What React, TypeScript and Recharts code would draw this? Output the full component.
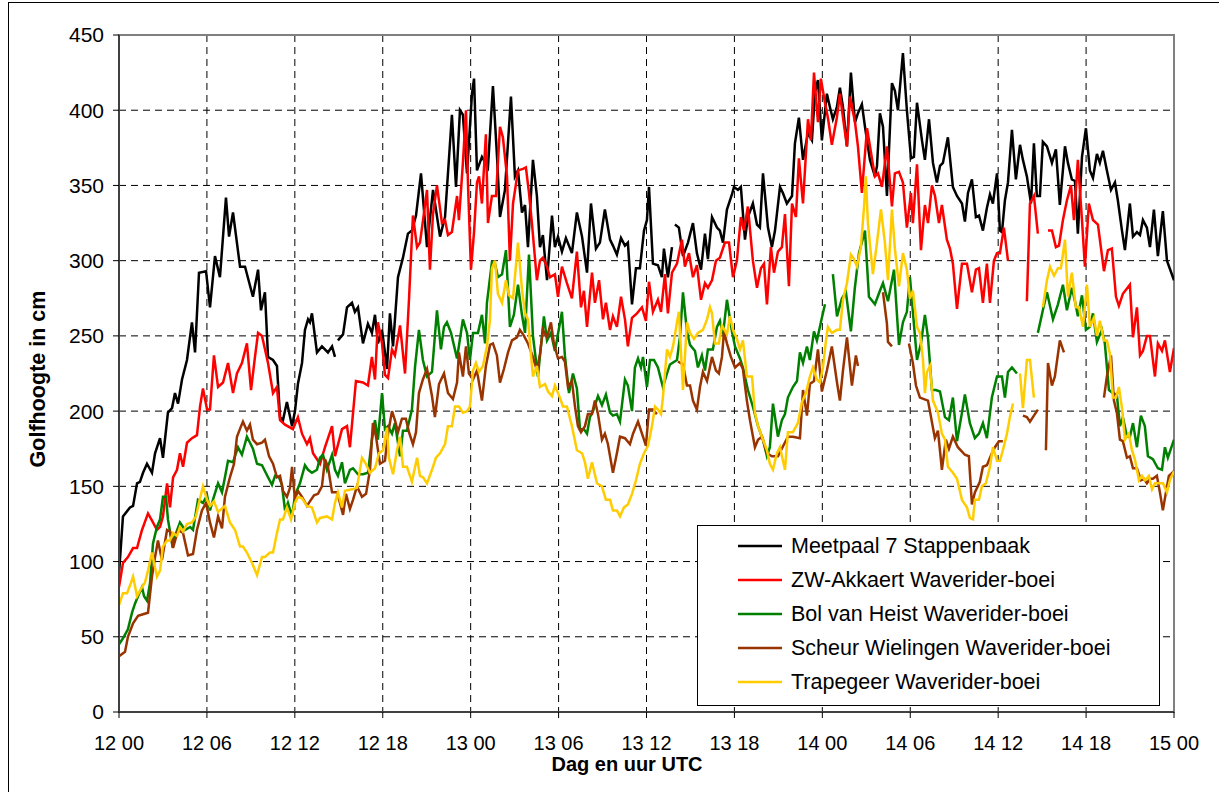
import React from 'react';
import { LineChart, Line, XAxis, YAxis, CartesianGrid, ReferenceArea, Legend, Label } from 'recharts';

// time in hours after "12 00", wave height in cm (null = gap in the record)
const meetpaal: [number, number | null][] = [
[0,92],[0.27,130],[0.75,136],[0.96,137],[1.23,152],[1.43,153],[1.64,159],[1.91,165],[2.25,159],[2.46,172],[2.80,182],[3.00,169],[3.34,199],[3.62,202],[3.82,212],[4.03,205],[4.30,221],[4.64,234],[4.91,254],[4.98,259],[5.19,239],[5.46,292],[5.94,293],[6.21,269],[6.55,303],[6.89,289],[7.30,342],[7.51,316],[7.78,332],[8.26,296],[8.60,296],[9.14,276],[9.49,294],[9.69,267],[9.96,279],[10.17,236],[10.51,234],[10.78,230],[10.99,196],[11.19,194],[11.46,206],[11.81,190],[12.01,200],[12.21,218],[12.49,232],[12.69,254],[12.90,261],[13.03,259],[13.17,265],[13.51,239],[13.85,243],[14.26,239],[14.54,243],[14.74,236],[14.85,null],[14.94,247],[15.29,251],[15.56,269],[15.90,272],[16.10,266],[16.31,269],[16.65,245],[16.99,258],[17.26,252],[17.47,264],[17.67,245],[17.95,254],[18.15,239],[18.29,228],[18.49,265],[18.70,243],[19.04,289],[19.38,302],[19.72,318],[19.99,320],[20.27,330],[20.61,358],[21.02,309],[21.43,347],[21.91,316],[22.25,329],[22.72,397],[23.00,349],[23.27,400],[23.47,397],[23.75,358],[24.09,411],[24.23,421],[24.43,360],[24.77,369],[25.18,362],[25.52,416],[25.80,369],[26.00,329],[26.34,347],[26.75,409],[27.02,356],[27.23,360],[27.50,332],[27.71,337],[27.91,309],[28.25,367],[28.52,343],[28.73,309],[28.93,317],[29.21,287],[29.55,330],[29.75,309],[29.96,316],[30.23,306],[30.50,315],[30.91,305],[31.25,332],[31.60,316],[31.94,292],[32.21,338],[32.55,308],[32.82,312],[33.16,334],[33.51,314],[33.71,310],[33.98,304],[34.26,315],[34.53,310],[34.73,312],[35.01,271],[35.28,295],[35.55,295],[35.83,320],[36.03,327],[36.17,349],[36.44,298],[36.78,297],[37.05,289],[37.19,308],[37.46,289],[37.74,309],[37.85,null],[37.94,324],[38.21,322],[38.49,303],[38.83,312],[39.17,325],[39.44,305],[39.72,294],[39.99,318],[40.19,301],[40.47,329],[40.81,322],[41.01,320],[41.22,312],[41.49,334],[41.83,344],[41.97,349],[42.24,347],[42.44,349],[42.72,314],[42.92,329],[43.26,338],[43.54,324],[43.74,322],[43.95,358],[44.29,322],[44.56,309],[44.77,320],[45.11,349],[45.31,345],[45.58,338],[45.93,343],[46.13,378],[46.40,395],[46.68,367],[47.02,385],[47.29,380],[47.50,412],[47.70,420],[47.97,380],[48.31,411],[48.52,402],[48.72,394],[48.99,402],[49.20,415],[49.41,402],[49.68,376],[49.95,425],[50.23,392],[50.43,398],[50.70,404],[50.91,389],[51.25,367],[51.59,356],[51.73,363],[51.93,398],[52.14,389],[52.41,343],[52.75,418],[52.95,413],[53.16,400],[53.50,438],[53.77,400],[54.05,368],[54.25,369],[54.46,405],[54.80,380],[55.00,367],[55.28,394],[55.55,365],[55.82,352],[56.03,363],[56.23,365],[56.57,382],[56.91,349],[57.19,343],[57.53,338],[57.73,326],[57.94,345],[58.21,354],[58.48,329],[58.69,330],[58.96,320],[59.23,335],[59.44,344],[59.64,338],[59.92,358],[60.12,320],[60.26,319],[60.46,340],[60.67,352],[60.94,387],[61.21,354],[61.49,377],[61.69,367],[61.96,356],[62.24,338],[62.44,378],[62.64,343],[62.85,343],[63.05,379],[63.33,376],[63.67,365],[63.94,374],[64.21,337],[64.56,376],[64.76,365],[65.03,354],[65.24,353],[65.44,318],[65.72,369],[65.99,388],[66.26,360],[66.47,355],[66.74,371],[66.94,365],[67.15,373],[67.42,360],[67.70,347],[67.97,352],[68.17,340],[68.45,320],[68.65,307],[68.99,338],[69.20,316],[69.47,319],[69.68,317],[69.88,327],[70.15,322],[70.36,309],[70.63,334],[70.90,303],[71.24,333],[71.52,300],[72,287]
];

const akkaert: [number, number | null][] = [
[0,83],[0.27,99],[0.61,103],[0.96,109],[1.23,109],[1.57,121],[1.98,132],[2.32,126],[2.59,121],[2.80,123],[3.00,130],[3.28,152],[3.48,136],[3.69,156],[3.96,161],[4.16,172],[4.37,163],[4.64,179],[4.98,182],[5.32,184],[5.53,203],[5.73,215],[6.01,201],[6.21,201],[6.48,237],[6.76,216],[7.10,219],[7.44,232],[7.78,212],[8.05,225],[8.39,232],[8.73,245],[9.01,214],[9.28,236],[9.49,252],[9.76,250],[10.17,232],[10.51,212],[10.78,216],[10.99,194],[11.33,191],[11.87,188],[12.21,196],[12.49,185],[12.83,178],[13.03,182],[13.24,172],[13.72,165],[14.06,176],[14.54,190],[14.74,170],[15.22,188],[15.56,190],[15.76,176],[16.17,220],[16.65,219],[16.99,217],[17.26,236],[17.47,221],[17.67,259],[17.95,245],[18.15,224],[18.36,222],[18.63,241],[18.83,237],[19.18,257],[19.52,225],[19.79,274],[20.06,330],[20.34,309],[20.54,312],[20.75,327],[21.02,347],[21.22,294],[21.43,331],[21.70,350],[22.04,325],[22.25,327],[22.45,317],[22.72,319],[23.07,343],[23.20,327],[23.47,365],[23.68,400],[23.82,350],[24.02,294],[24.23,319],[24.43,352],[24.57,356],[24.77,338],[25.04,384],[25.18,325],[25.45,343],[25.73,343],[26.00,389],[26.20,382],[26.48,356],[26.68,300],[26.89,338],[27.23,360],[27.57,361],[27.77,362],[27.98,345],[28.18,325],[28.52,287],[28.73,300],[28.93,302],[29.21,296],[29.41,289],[29.75,291],[29.96,276],[30.23,296],[30.57,285],[30.91,275],[31.25,306],[31.53,269],[31.73,280],[31.94,256],[32.28,292],[32.48,272],[32.76,287],[33.03,261],[33.23,272],[33.51,254],[33.71,263],[33.98,256],[34.26,276],[34.53,261],[34.73,243],[35.01,262],[35.35,265],[35.69,269],[35.96,260],[36.17,286],[36.44,266],[36.78,274],[36.99,266],[37.26,291],[37.46,265],[37.74,292],[38.08,298],[38.42,314],[38.62,296],[38.90,305],[39.17,289],[39.44,297],[39.72,274],[39.99,285],[40.19,282],[40.47,287],[40.74,300],[41.01,302],[41.35,312],[41.63,312],[41.90,289],[42.17,300],[42.44,329],[42.65,320],[42.92,336],[43.26,300],[43.54,282],[43.81,295],[44.02,298],[44.22,271],[44.49,309],[44.70,292],[44.97,306],[45.24,309],[45.45,331],[45.72,283],[45.93,338],[46.20,329],[46.40,368],[46.68,338],[47.02,394],[47.22,380],[47.43,425],[47.70,392],[47.90,421],[48.18,405],[48.38,395],[48.65,377],[48.99,395],[49.20,411],[49.41,395],[49.68,376],[49.89,409],[50.23,392],[50.43,376],[50.70,345],[51.05,388],[51.32,372],[51.59,356],[51.80,358],[52.07,349],[52.41,376],[52.75,336],[52.95,358],[53.23,359],[53.50,352],[53.77,322],[54.05,345],[54.18,325],[54.46,364],[54.73,307],[55.00,337],[55.21,325],[55.48,350],[55.69,343],[55.96,325],[56.16,337],[56.50,314],[56.71,308],[56.91,298],[57.19,268],[57.53,298],[57.87,298],[58.21,279],[58.48,294],[58.69,295],[58.96,272],[59.23,298],[59.44,272],[59.71,300],[59.92,305],[60.12,305],[60.39,322],[60.67,300],[60.9,null],[61.96,273],[62.17,338],[62.44,343],[62.71,318],[63.0,null],[63.40,320],[63.67,320],[63.94,309],[64.15,310],[64.42,327],[64.69,340],[64.97,350],[65.17,327],[65.44,367],[65.72,327],[65.92,296],[66.19,338],[66.47,327],[66.81,324],[67.22,293],[67.49,307],[67.76,308],[68.04,276],[68.24,270],[68.51,278],[68.99,284],[69.20,249],[69.47,269],[69.68,237],[69.88,240],[70.15,250],[70.36,250],[70.70,223],[70.90,245],[71.18,240],[71.38,247],[71.72,226],[72,242]
];

const bolVanHeist: [number, number | null][] = [
[0,45],[0.27,49],[0.61,55],[0.89,66],[1.09,72],[1.30,77],[1.57,83],[1.71,77],[1.91,74],[2.12,86],[2.32,112],[2.59,123],[2.80,128],[3.00,143],[3.21,143],[3.34,128],[3.62,112],[3.82,117],[4.16,126],[4.50,121],[4.85,123],[5.05,121],[5.39,141],[5.73,139],[6.01,144],[6.21,134],[6.41,141],[6.76,152],[7.03,146],[7.23,156],[7.44,167],[7.78,166],[8.12,176],[8.39,171],[8.73,183],[8.94,179],[9.14,175],[9.42,165],[9.76,164],[10.17,156],[10.44,151],[10.65,157],[10.92,156],[11.12,151],[11.33,134],[11.53,139],[11.81,130],[12.01,144],[12.35,152],[12.69,164],[12.90,161],[13.17,159],[13.51,161],[13.72,169],[13.92,171],[14.19,161],[14.54,171],[14.74,161],[14.94,157],[15.22,166],[15.42,152],[15.76,161],[15.97,162],[16.31,158],[16.65,158],[16.99,159],[17.26,181],[17.47,194],[17.67,181],[17.95,212],[18.15,188],[18.36,190],[18.63,185],[18.83,192],[19.18,170],[19.38,187],[19.65,187],[19.99,201],[20.20,229],[20.47,254],[20.74,234],[21.02,223],[21.36,226],[21.70,267],[21.97,241],[22.18,256],[22.38,259],[22.66,252],[23.07,235],[23.47,261],[23.75,252],[23.95,234],[24.16,252],[24.50,252],[24.77,264],[24.98,245],[25.11,272],[25.45,299],[25.66,298],[25.86,289],[26.14,291],[26.41,307],[26.68,256],[26.95,264],[27.23,284],[27.50,264],[27.71,252],[27.98,304],[28.25,250],[28.59,223],[29.00,263],[29.21,247],[29.48,252],[29.75,240],[30.23,266],[30.43,237],[30.71,212],[30.98,225],[31.25,215],[31.46,188],[31.73,188],[31.94,185],[32.14,196],[32.35,200],[32.69,210],[32.96,204],[33.23,211],[33.51,199],[33.71,197],[33.98,198],[34.19,193],[34.53,221],[34.73,217],[35.01,200],[35.21,229],[35.42,235],[35.62,229],[35.76,236],[36.03,216],[36.24,234],[36.51,234],[36.78,229],[37.12,216],[37.40,225],[37.60,231],[38.08,234],[38.28,249],[38.49,279],[38.76,253],[38.97,244],[39.31,240],[39.51,229],[39.78,237],[39.99,227],[40.19,241],[40.53,241],[40.81,256],[41.01,260],[41.22,251],[41.49,274],[41.83,253],[42.04,243],[42.38,235],[42.58,229],[42.92,214],[43.26,203],[43.61,190],[43.95,181],[44.22,170],[44.42,176],[44.63,205],[44.97,183],[45.24,194],[45.45,198],[45.65,209],[45.99,216],[46.27,220],[46.47,239],[46.68,232],[46.95,243],[47.15,234],[47.43,253],[47.63,247],[47.97,262],[48.18,271],[48.4,null],[48.72,291],[49.00,263],[49.34,275],[49.61,279],[49.95,253],[50.22,282],[50.50,305],[50.91,320],[51.18,276],[51.59,271],[51.93,280],[52.14,285],[52.48,273],[52.89,294],[53.23,244],[53.50,259],[53.77,266],[53.98,289],[54.18,266],[54.46,234],[54.73,245],[55.00,264],[55.21,249],[55.48,214],[55.75,214],[56.03,213],[56.37,196],[56.64,194],[56.91,209],[57.19,180],[57.53,199],[57.73,211],[58.07,192],[58.41,182],[58.69,185],[58.96,192],[59.23,182],[59.57,209],[59.92,223],[60.26,223],[60.46,209],[60.67,226],[60.94,229],[61.28,225],[62.0,null],[62.71,252],[63.05,267],[63.33,279],[63.74,261],[64.08,271],[64.42,284],[64.69,267],[65.03,282],[65.24,273],[65.44,263],[65.72,277],[65.99,254],[66.26,256],[66.47,265],[66.74,246],[67.08,254],[67.28,245],[67.56,214],[67.83,212],[68.10,211],[68.31,190],[68.51,196],[68.79,183],[68.99,183],[69.20,192],[69.47,176],[69.74,197],[70.01,190],[70.22,170],[70.56,168],[70.90,162],[71.18,161],[71.38,176],[71.58,169],[72,181]
];

const scheurWielingen: [number, number | null][] = [
[0,37],[0.41,40],[0.61,50],[0.96,59],[1.30,64],[1.64,65],[1.98,66],[2.25,90],[2.46,103],[2.66,114],[2.93,101],[3.28,121],[3.48,120],[3.69,109],[4.03,121],[4.37,119],[4.71,104],[5.05,105],[5.32,121],[5.66,134],[5.94,139],[6.21,126],[6.48,116],[6.76,130],[7.03,122],[7.23,143],[7.57,156],[7.85,165],[8.05,183],[8.33,190],[8.46,193],[8.73,187],[8.94,191],[9.14,181],[9.42,178],[9.76,179],[9.96,181],[10.24,170],[10.51,165],[10.78,156],[10.99,157],[11.19,147],[11.46,143],[11.67,149],[11.81,163],[12.01,141],[12.21,147],[12.49,143],[12.83,137],[13.03,140],[13.31,144],[13.58,145],[13.85,150],[14.06,168],[14.26,163],[14.54,146],[14.88,146],[15.08,139],[15.29,131],[15.49,145],[15.76,135],[15.97,141],[16.24,150],[16.58,143],[16.86,145],[17.13,161],[17.33,192],[17.54,183],[17.81,165],[18.15,167],[18.36,185],[18.63,200],[18.83,194],[19.04,186],[19.31,195],[19.58,195],[19.79,186],[20.06,178],[20.27,186],[20.47,212],[20.74,221],[21.02,228],[21.36,210],[21.56,196],[21.84,218],[22.18,225],[22.45,212],[22.79,208],[23.07,219],[23.20,239],[23.47,223],[23.68,243],[23.88,225],[24.16,221],[24.43,227],[24.77,207],[25.04,230],[25.32,244],[25.52,245],[25.79,237],[26.00,219],[26.27,228],[26.55,239],[26.82,247],[27.16,249],[27.36,254],[27.64,250],[27.91,245],[28.25,236],[28.52,227],[28.73,238],[28.93,254],[29.21,249],[29.48,259],[29.68,245],[29.96,235],[30.23,236],[30.43,233],[30.64,216],[30.91,220],[31.12,203],[31.32,190],[31.53,186],[31.80,190],[32.00,198],[32.28,198],[32.48,207],[32.69,198],[32.96,181],[33.16,185],[33.37,178],[33.71,159],[33.98,172],[34.19,183],[34.53,182],[34.87,178],[35.08,185],[35.42,193],[35.76,183],[35.96,177],[36.17,201],[36.44,201],[36.71,198],[37.3,null],[38.15,233],[38.49,231],[38.76,217],[38.97,217],[39.17,207],[39.44,201],[39.65,216],[39.85,226],[40.13,220],[40.47,236],[40.74,227],[40.94,225],[41.15,236],[41.29,253],[41.49,245],[41.76,236],[42.04,229],[42.38,232],[42.58,228],[42.85,207],[43.06,194],[43.40,176],[43.61,181],[43.88,183],[44.22,172],[44.56,170],[44.97,170],[45.65,183],[45.99,183],[46.47,182],[46.68,214],[46.95,197],[47.15,218],[47.43,220],[47.70,241],[47.97,213],[48.31,227],[48.65,243],[49.00,219],[49.20,207],[49.41,227],[49.68,249],[50.02,217],[50.29,237],[50.43,230],[51.5,null],[52.14,279],[52.41,258],[52.48,246],[52.75,243],[53.2,null],[53.91,245],[54.18,232],[54.39,217],[54.66,209],[55.21,207],[55.68,182],[55.89,187],[56.16,161],[56.43,181],[56.64,175],[56.91,183],[57.25,176],[57.73,171],[58.00,170],[58.21,138],[58.41,146],[58.75,153],[58.96,163],[59.23,164],[59.57,172],[59.78,176],[60.05,180],[60.32,180],[60.9,null],[61.69,197],[61.96,196],[62.17,193],[62.44,197],[62.71,201],[62.9,null],[63.26,174],[63.40,232],[63.67,217],[63.87,223],[64.21,247],[64.49,239],[66.0,null],[67.22,209],[67.42,223],[67.70,237],[67.90,207],[68.10,199],[68.31,181],[68.51,180],[68.79,169],[68.99,170],[69.20,162],[69.47,162],[69.74,154],[69.95,155],[70.15,152],[70.36,155],[70.56,155],[70.83,157],[71.04,146],[71.24,134],[71.45,146],[71.65,157],[72,160]
];

const trapegeer: [number, number | null][] = [
[0,71],[0.27,79],[0.55,79],[0.82,86],[0.96,90],[1.23,77],[1.57,83],[1.77,86],[1.98,94],[2.25,106],[2.39,99],[2.59,90],[2.80,94],[3.00,110],[3.28,114],[3.48,114],[3.69,119],[3.96,117],[4.16,123],[4.37,120],[4.64,125],[4.98,126],[5.25,130],[5.46,139],[5.73,150],[6.01,141],[6.21,137],[6.48,140],[6.76,133],[7.23,137],[7.57,126],[7.92,121],[8.26,110],[8.46,110],[8.73,106],[9.08,99],[9.42,91],[9.76,103],[9.96,103],[10.30,106],[10.51,106],[10.78,119],[10.99,128],[11.19,128],[11.46,136],[11.74,128],[12.01,139],[12.21,143],[12.49,142],[12.83,137],[13.17,136],[13.51,126],[13.72,129],[14.19,130],[14.54,128],[14.74,139],[14.94,146],[15.22,136],[15.42,147],[15.90,148],[16.24,149],[16.58,169],[16.79,166],[17.13,159],[17.47,162],[17.74,172],[18.02,174],[18.29,189],[18.42,169],[18.70,158],[18.97,174],[19.18,183],[19.38,163],[19.65,163],[19.99,153],[20.34,169],[20.54,157],[20.75,156],[21.02,152],[21.36,161],[21.63,169],[21.91,172],[22.25,178],[22.45,190],[22.72,190],[22.93,203],[23.20,203],[23.47,199],[23.75,200],[23.95,203],[24.16,227],[24.36,232],[24.57,226],[24.84,230],[25.11,243],[25.32,261],[25.45,295],[25.66,300],[25.86,278],[26.14,272],[26.41,287],[26.61,277],[26.89,275],[27.23,312],[27.50,281],[27.71,265],[27.91,261],[28.05,245],[28.25,223],[28.52,230],[28.73,216],[29.07,218],[29.28,213],[29.55,210],[29.75,217],[30.09,209],[30.30,203],[30.57,203],[30.91,190],[31.25,174],[31.60,172],[31.80,166],[32.00,155],[32.28,166],[32.62,152],[32.96,150],[33.23,141],[33.51,141],[33.71,134],[33.98,134],[34.19,130],[34.46,136],[34.73,138],[35.01,145],[35.28,154],[35.55,165],[35.83,172],[36.10,177],[36.37,190],[36.58,203],[36.78,201],[36.99,198],[37.12,209],[37.40,241],[37.60,236],[37.81,243],[38.08,259],[38.21,266],[38.49,214],[38.76,259],[38.97,252],[39.24,248],[39.51,252],[39.85,254],[40.13,261],[40.33,269],[40.47,265],[40.67,245],[40.94,245],[41.15,257],[41.49,251],[41.70,263],[41.90,254],[42.17,248],[42.38,241],[42.58,247],[42.85,223],[43.20,223],[43.40,199],[43.61,190],[43.95,181],[44.22,174],[44.42,165],[44.63,161],[44.90,172],[45.11,176],[45.45,161],[45.65,186],[45.99,186],[46.33,192],[46.61,206],[46.88,212],[47.15,223],[47.36,229],[47.63,221],[47.84,219],[48.04,229],[48.25,247],[48.38,256],[48.65,252],[49.00,254],[49.20,254],[49.41,274],[49.68,285],[49.95,304],[50.16,301],[50.36,296],[50.63,309],[50.84,335],[50.97,356],[51.11,325],[51.45,291],[51.73,312],[52.00,334],[52.27,312],[52.48,287],[52.75,334],[52.95,308],[53.23,283],[53.50,305],[53.77,294],[53.98,275],[54.18,280],[54.46,256],[54.66,252],[54.87,234],[55.00,212],[55.14,226],[55.34,230],[55.55,207],[55.89,199],[56.16,185],[56.37,181],[56.57,163],[56.91,159],[57.19,155],[57.53,141],[57.87,136],[58.07,129],[58.28,128],[58.41,141],[58.69,141],[58.89,150],[59.16,152],[59.44,163],[59.64,176],[59.92,167],[60.12,167],[60.32,174],[60.60,185],[60.80,196],[61.01,205],[61.2,null],[61.49,225],[61.69,202],[61.96,234],[62.17,234],[62.44,209],[62.6,null],[63.05,269],[63.33,287],[63.54,296],[63.81,290],[64.08,295],[64.28,295],[64.56,314],[64.76,276],[65.03,292],[65.30,269],[65.51,269],[65.79,256],[66.06,284],[66.26,256],[66.53,262],[66.74,250],[66.94,260],[67.22,247],[67.42,247],[67.63,238],[67.83,209],[68.04,209],[68.24,216],[68.45,202],[68.65,181],[68.92,185],[69.13,174],[69.33,168],[69.61,154],[69.81,157],[70.02,154],[70.29,157],[70.50,148],[70.70,152],[70.98,152],[71.25,152],[71.52,146],[71.72,154],[72,160]
];

const xTicks = [0, 6, 12, 18, 24, 30, 36, 42, 48, 54, 60, 66, 72];
const xTickLabels = ['12 00', '12 06', '12 12', '12 18', '13 00', '13 06', '13 12', '13 18', '14 00', '14 06', '14 12', '14 18', '15 00'];
const yTicks = [0, 50, 100, 150, 200, 250, 300, 350, 400, 450];

const seriesNames = [
  'Meetpaal 7 Stappenbaak',
  'ZW-Akkaert Waverider-boei',
  'Bol van Heist Waverider-boei',
  'Scheur Wielingen Waverider-boei',
  'Trapegeer Waverider-boei',
];
const seriesColors = ['#000000', '#FF0000', '#008000', '#993300', '#FFCC00'];
const seriesData = [meetpaal, akkaert, bolVanHeist, scheurWielingen, trapegeer];

const FONT = '"Liberation Sans", Arial, Helvetica, sans-serif';

const toPoints = (pairs: [number, number | null][]) => pairs.map(([t, v]) => ({ t, v }));

const LegendBox = () => (
  <div
    style={{
      width: 463,
      height: 181,
      boxSizing: 'border-box',
      border: '1px solid #000',
      background: '#fff',
      paddingTop: 3,
      fontFamily: FONT,
      fontSize: 21.5,
      color: '#000',
    }}
  >
    {seriesNames.map((name, i) => (
      <div key={name} style={{ display: 'flex', alignItems: 'center', height: 34 }}>
        <svg width={93} height={10} style={{ flex: 'none' }}>
          <line x1={40} y1={5} x2={84} y2={5} stroke={seriesColors[i]} strokeWidth={2.5} />
        </svg>
        <span style={{ whiteSpace: 'nowrap' }}>{name}</span>
      </div>
    ))}
  </div>
);

const XTitle = () => (
  <text x={627} y={771} textAnchor="middle" fontFamily={FONT} fontWeight="bold" fontSize={20} fill="#000">
    Dag en uur UTC
  </text>
);

const YTitle = () => (
  <text
    x={0}
    y={0}
    transform="translate(45, 379) rotate(-90)"
    textAnchor="middle"
    fontFamily={FONT}
    fontWeight="bold"
    fontSize={21.5}
    fill="#000"
  >
    Golfhoogte in cm
  </text>
);

export default function App() {
  return (
    <div style={{ position: 'absolute', left: 0, top: 0, width: 1219, height: 792, background: '#fff', overflow: 'hidden' }}>
      <div
        style={{
          position: 'absolute',
          left: 8,
          top: 2,
          width: 1211,
          height: 790,
          boxSizing: 'border-box',
          borderLeft: '1.5px solid #000',
          borderTop: '1.5px solid #000',
        }}
      />
      <div style={{ position: 'absolute', left: 0, top: 0 }}>
        <LineChart width={1219} height={792} margin={{ top: 35, right: 45, bottom: 50, left: 59 }} style={{ fontFamily: FONT }}>
          <CartesianGrid stroke="#000" strokeDasharray="7 5" strokeWidth={1} />
          <XAxis
            type="number"
            dataKey="t"
            domain={[0, 72]}
            ticks={xTicks}
            interval={0}
            allowDataOverflow
            height={30}
            tickFormatter={(v: number) => xTickLabels[xTicks.indexOf(v)]}
            tick={{ fill: '#000', fontSize: 20, fontFamily: FONT }}
            tickSize={6}
            tickMargin={18}
            axisLine={{ stroke: '#404040', strokeWidth: 2 }}
            tickLine={{ stroke: '#000' }}
          >
            <Label content={<XTitle />} />
          </XAxis>
          <YAxis
            type="number"
            domain={[0, 450]}
            ticks={yTicks}
            interval={0}
            allowDataOverflow
            width={60}
            tick={{ fill: '#000', fontSize: 21, fontFamily: FONT }}
            tickSize={6}
            tickMargin={9}
            axisLine={{ stroke: '#404040', strokeWidth: 2 }}
            tickLine={{ stroke: '#000' }}
          >
            <Label content={<YTitle />} />
          </YAxis>
          <ReferenceArea x1={0} x2={72} y1={0} y2={450} fill="none" stroke="#808080" strokeWidth={2} ifOverflow="visible" />
          {seriesData.map((d, i) => (
            <Line
              key={seriesNames[i]}
              data={toPoints(d)}
              dataKey="v"
              name={seriesNames[i]}
              type="linear"
              stroke={seriesColors[i]}
              strokeWidth={2.5}
              dot={false}
              activeDot={false}
              connectNulls={false}
              isAnimationActive={false}
            />
          ))}
          <Legend
            layout="vertical"
            align="center"
            verticalAlign="middle"
            content={<LegendBox />}
            wrapperStyle={{ position: 'absolute', left: 697, top: 525, width: 463, height: 181 }}
          />
        </LineChart>
      </div>
    </div>
  );
}
